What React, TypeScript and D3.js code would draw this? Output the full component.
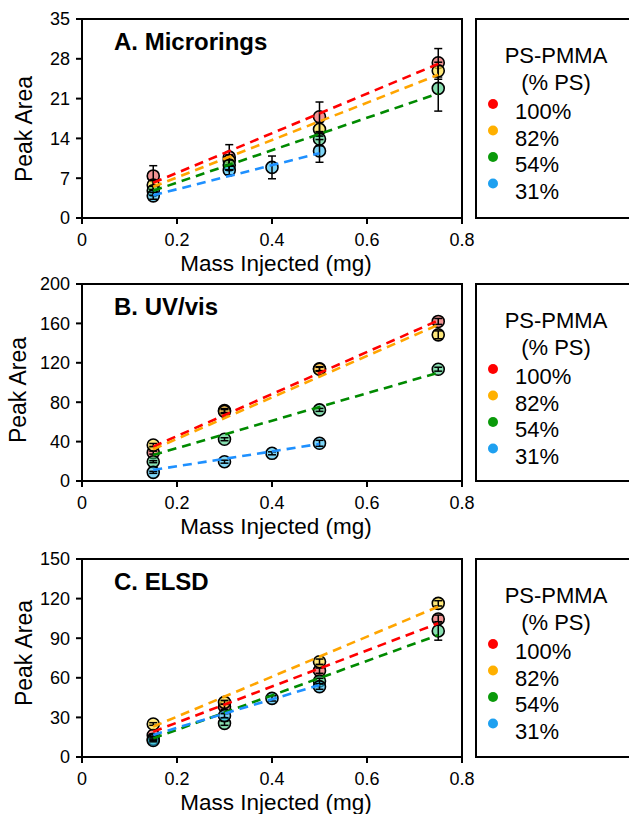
import React from 'react';
import * as d3 from 'd3';

// series labels and colours
const seriesNames = ['100%', '82%', '54%', '31%'];
const lineColors = ['#ff0000', '#ffa500', '#008a00', '#1e90ff'];
const fillColors = ['rgba(232,70,70,0.58)', 'rgba(255,222,60,0.68)', 'rgba(50,200,120,0.58)', 'rgba(40,185,240,0.6)'];
const legendColors = ['#ff0000', '#ffb000', '#0a9a0a', '#1ea0f0'];

// A. Microrings
const massA = [0.15, 0.31, 0.4, 0.5, 0.75];
const a100 = [7.4, 10.7, null, 17.8, 27.3];
const a100Err = [1.8, 2.2, null, 2.6, 2.5];
const a82 = [5.8, 10.1, null, 15.6, 25.9];
const a82Err = [0.8, 1.0, null, 1.2, 1.5];
const a54 = [4.8, 9.3, null, 13.9, 22.8];
const a54Err = [0.8, 0.9, null, 1.2, 4.0];
const a31 = [3.9, 8.4, 8.9, 11.8, null];
const a31Err = [0.6, 0.8, 2.0, 2.0, null];
const fitA = [[6.2, 27.1], [5.5, 25.2], [4.8, 21.9], [4.0, 11.4]];

// B. UV/vis
const massB = [0.15, 0.3, 0.4, 0.5, 0.75];
const b100 = [28.8, 71.5, null, 114.0, 162.0];
const b100Err = [1.5, 2, null, 2, 3];
const b82 = [36.6, 70.5, null, 113.5, 148.4];
const b82Err = [1.5, 2, null, 2, 4];
const b54 = [19.6, 42.4, null, 72.2, 113.5];
const b54Err = [1, 1.5, null, 1.5, 2];
const b31 = [8.8, 19.6, 28.1, 38.3, null];
const b31Err = [1, 1.5, 1.5, 3, null];
const fitB = [[34.9, 163.0], [32.2, 158.6], [26.4, 110.0], [11.2, 37.6]];

// C. ELSD
const massC = [0.15, 0.3, 0.4, 0.5, 0.75];
const c100 = [16.5, 38.1, null, 65.4, 104.5];
const c100Err = [1, 2, null, 2, 3];
const c82 = [25.0, 41.4, null, 72.2, 116.4];
const c82Err = [1, 1.5, null, 2, 2];
const c54 = [13.5, 25.5, null, 57.6, 95.5];
const c54Err = [1, 1.5, null, 2, 7];
const c31 = [12.5, 31.3, 44.4, 53.3, null];
const c31Err = [1, 1.5, 2, 2, null];
const fitC = [[19.2, 101.3], [23.0, 113.9], [14.1, 92.4], [16.7, 54.5]];

const fitX = [[0.15, 0.75], [0.15, 0.75], [0.15, 0.75], [0.15, 0.5]];
const xTicks = [0, 0.2, 0.4, 0.6, 0.8];

const panels = [
  { title: 'A. Microrings', mass: massA, ys: [a100, a82, a54, a31], errs: [a100Err, a82Err, a54Err, a31Err], fit: fitA, yMax: 35, yTicks: [0, 7, 14, 21, 28, 35], top: 19, bottom: 218, titleY: 129, titleX: 32 },
  { title: 'B. UV/vis', mass: massB, ys: [b100, b82, b54, b31], errs: [b100Err, b82Err, b54Err, b31Err], fit: fitB, yMax: 200, yTicks: [0, 40, 80, 120, 160, 200], top: 284, bottom: 481, titleY: 390, titleX: 26 },
  { title: 'C. ELSD', mass: massC, ys: [c100, c82, c54, c31], errs: [c100Err, c82Err, c54Err, c31Err], fit: fitC, yMax: 150, yTicks: [0, 30, 60, 90, 120, 150], top: 559, bottom: 757, titleY: 653, titleX: 32 },
];

const FONT = '"Liberation Sans", Arial, sans-serif';
const left = 82;
const right = 462;

function Panel({ p }) {
  const x = d3.scaleLinear().domain([0, 0.8]).range([left, right]);
  const y = d3.scaleLinear().domain([0, p.yMax]).range([p.bottom, p.top]);
  const line = d3.line().x((d) => x(d[0])).y((d) => y(d[1]));

  return (
    <g>
      {/* markers */}
      {p.ys.map((vals, s) =>
        vals.map((v, i) =>
          v == null ? null : (
            <circle key={`m${s}-${i}`} cx={x(p.mass[i])} cy={y(v)} r={6} fill={fillColors[s]} stroke="#000" strokeWidth={1.6} />
          )
        )
      )}
      {/* error bars */}
      {p.ys.map((vals, s) =>
        vals.map((v, i) => {
          if (v == null) return null;
          const e = p.errs[s][i];
          const cx = x(p.mass[i]);
          return (
            <g key={`e${s}-${i}`} stroke="#000" strokeWidth={1.5}>
              <line x1={cx} x2={cx} y1={y(v - e)} y2={y(v + e)} />
              <line x1={cx - 4} x2={cx + 4} y1={y(v - e)} y2={y(v - e)} />
              <line x1={cx - 4} x2={cx + 4} y1={y(v + e)} y2={y(v + e)} />
            </g>
          );
        })
      )}
      {/* trend lines */}
      {p.fit.map((f, s) => (
        <path key={`f${s}`} d={line([[fitX[s][0], f[0]], [fitX[s][1], f[1]]])} fill="none" stroke={lineColors[s]} strokeWidth={2.6} strokeDasharray="9,6" />
      ))}
      {/* frame */}
      <rect x={left} y={p.top} width={right - left} height={p.bottom - p.top} fill="none" stroke="#000" strokeWidth={2} />
      {/* y ticks */}
      {p.yTicks.map((t) => (
        <g key={`yt${t}`}>
          <line x1={left - 6} x2={left} y1={y(t)} y2={y(t)} stroke="#000" strokeWidth={2} />
          <text x={70} y={y(t)} dy="0.35em" textAnchor="end" fontSize={18} fontFamily={FONT}>{t}</text>
        </g>
      ))}
      {/* x ticks */}
      {xTicks.map((t) => (
        <g key={`xt${t}`}>
          <line x1={x(t)} x2={x(t)} y1={p.bottom} y2={p.bottom + 6} stroke="#000" strokeWidth={2} />
          <text x={x(t)} y={p.bottom + 28} textAnchor="middle" fontSize={18} fontFamily={FONT}>{t}</text>
        </g>
      ))}
      <text x={276} y={p.bottom + 53} textAnchor="middle" fontSize={22.5} fontFamily={FONT}>Mass Injected (mg)</text>
      <text transform={`translate(${p.titleX},${p.titleY}) rotate(-90)`} textAnchor="middle" fontSize={23} fontFamily={FONT}>Peak Area</text>
      <text x={114} y={p.top + 31} fontSize={24} fontWeight="bold" fontFamily={FONT}>{p.title}</text>
      {/* legend */}
      <rect x={476} y={p.top} width={170} height={p.bottom - p.top} fill="none" stroke="#000" strokeWidth={2} />
      <text x={556} y={p.top + 44} textAnchor="middle" fontSize={22} fontFamily={FONT}>PS-PMMA</text>
      <text x={556} y={p.top + 71} textAnchor="middle" fontSize={22} fontFamily={FONT}>(% PS)</text>
      {seriesNames.map((n, s) => (
        <g key={`l${s}`}>
          <circle cx={493} cy={p.top + 85 + s * 26.5} r={5} fill={legendColors[s]} />
          <text x={515} y={p.top + 100 + s * 26.7} fontSize={22} fontFamily={FONT}>{n}</text>
        </g>
      ))}
    </g>
  );
}

export default function App() {
  return (
    <svg width={629} height={814} style={{ position: 'absolute', left: 0, top: 0, background: '#fff' }}>
      <rect width={629} height={814} fill="#fff" />
      {panels.map((p, i) => (
        <Panel key={i} p={p} />
      ))}
    </svg>
  );
}
